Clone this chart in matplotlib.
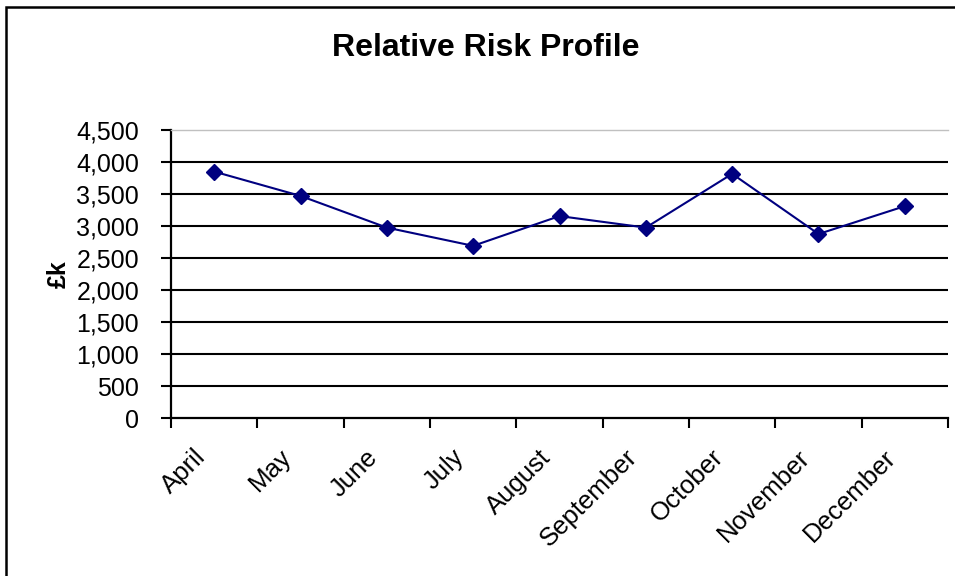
import matplotlib.pyplot as plt
import matplotlib.patches as mpatches
import matplotlib.transforms as mtransforms
import numpy as np

plt.rcParams["font.family"] = ["Liberation Sans", "DejaVu Sans"]

months = ["April", "May", "June", "July", "August", "September",
          "October", "November", "December"]
risk_k = [3850, 3470, 2975, 2690, 3155, 2975, 3815, 2875, 3310]
y_ticks = [0, 500, 1000, 1500, 2000, 2500, 3000, 3500, 4000, 4500]

fig = plt.figure(figsize=(9.55, 5.76), dpi=100)
ax = fig.add_axes([171 / 955, 1 - 418 / 576, 777 / 955, 288 / 576])

x = np.arange(len(months))
ax.plot(x, risk_k, color="#000080", lw=1.5, marker="D", ms=8,
        markerfacecolor="#000080", markeredgecolor="#000080", zorder=3)

# gridlines (black), top border light grey
for v in y_ticks[1:-1]:
    ax.axhline(v, color="black", lw=1.5, zorder=1)

ax.set_xlim(-0.5, len(months) - 0.5)
ax.set_ylim(0, 4500)

ax.set_yticks(y_ticks)
ax.set_yticklabels([f"{v:,}" for v in y_ticks], fontsize=18)
ax.set_xticks(x)
ax.set_xticklabels([])
ax.set_xticks(np.arange(len(months) + 1) - 0.5, minor=True)
ax.tick_params(axis="x", which="major", length=0)
ax.tick_params(axis="x", which="minor", length=7, width=1.5, direction="out")
ax.tick_params(axis="y", length=7, width=1.5, direction="out", pad=16)

# rotated month labels, Excel style (ending a little left of the centre)
shift = mtransforms.ScaledTranslation(-21 / 100, -27 / 100, fig.dpi_scale_trans)
for i, m in enumerate(months):
    ax.text(i, 0, m, transform=ax.get_xaxis_transform() + shift,
            fontsize=18.5, rotation=45, ha="right", va="top",
            rotation_mode="anchor", clip_on=False)

for s in ["left", "bottom"]:
    ax.spines[s].set_linewidth(1.6)
ax.spines["top"].set_color("#c0c0c0")
ax.spines["top"].set_linewidth(1.0)
ax.spines["right"].set_visible(False)

ax.set_ylabel("£k", fontsize=18, fontweight="bold", labelpad=4)
fig.text(486 / 955, 1 - 48 / 576, "Relative Risk Profile", fontsize=23,
         fontweight="bold", ha="center", va="center")

# chart border (only top and left visible in the crop)
fig.patches.append(mpatches.Rectangle((6 / 955, -0.5), 2, 0.5 + (1 - 7 / 576),
                                      transform=fig.transFigure, fill=False,
                                      edgecolor="black", lw=1.8))

fig.savefig("out.png", dpi=100)
